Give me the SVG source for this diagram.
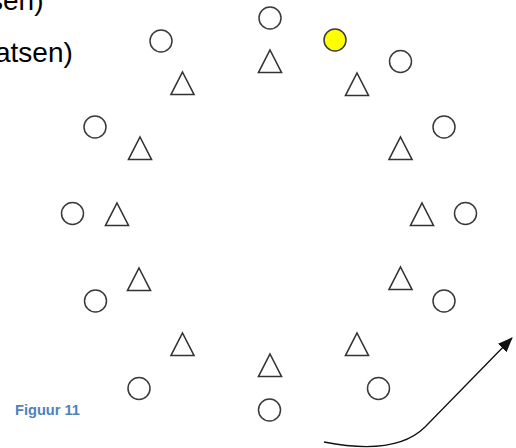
<svg xmlns="http://www.w3.org/2000/svg" xmlns:xlink="http://www.w3.org/1999/xlink" width="516" height="448" viewBox="0 0 516 448">
<style>
.c{fill:#fff;stroke:#3a3a3a;stroke-width:1.5}
.y{fill:#ffff00;stroke:#3a3a3a;stroke-width:1.5}
.t{fill:#fff;stroke:#333;stroke-width:1.6;stroke-linejoin:miter}
.txt{font-family:"Liberation Sans",Arial,sans-serif;font-size:28px;fill:#000}
.cap{font-family:"Liberation Sans",Arial,sans-serif;font-size:15px;font-weight:bold;fill:#4F81BD}
.arr{fill:none;stroke:#111;stroke-width:1.3}
</style>
<defs>
<path id="tri" d="M0,0 L11.5,22.5 L-11.5,22.5 Z"/>
<marker id="ah" markerUnits="userSpaceOnUse" markerWidth="16" markerHeight="14" refX="14" refY="6" orient="auto" viewBox="0 0 16 12">
<path d="M0,0 L15,6 L0,12 Z" fill="#111"/>
</marker>
</defs>
<rect width="516" height="448" fill="#fff"/>
<text class="txt" x="-11" y="10">sen)</text>
<text class="txt" x="-5" y="62">atsen)</text>
<text class="cap" x="15" y="415" textLength="65" lengthAdjust="spacingAndGlyphs">Figuur 11</text>
<g id="circles">
<g id="c1"><circle class="c" cx="270" cy="18" r="11"/></g>
<g id="c2"><circle class="c" cx="161" cy="41" r="11"/></g>
<g id="c3"><circle class="y" cx="335" cy="40" r="11"/></g>
<g id="c4"><circle class="c" cx="400.5" cy="61.5" r="11"/></g>
<g id="c5"><circle class="c" cx="95" cy="127" r="11"/></g>
<g id="c6"><circle class="c" cx="444" cy="127" r="11"/></g>
<g id="c7"><circle class="c" cx="72.5" cy="213.5" r="11"/></g>
<g id="c8"><circle class="c" cx="465.5" cy="213.5" r="11"/></g>
<g id="c9"><circle class="c" cx="95.5" cy="301" r="11"/></g>
<g id="c10"><circle class="c" cx="444" cy="301" r="11"/></g>
<g id="c11"><circle class="c" cx="139" cy="388.5" r="11"/></g>
<g id="c12"><circle class="c" cx="378.5" cy="388.5" r="11"/></g>
<g id="c13"><circle class="c" cx="269.5" cy="410" r="11"/></g>
</g>
<g id="triangles">
<g id="t1"><use class="t" xlink:href="#tri" x="270" y="50"/></g>
<g id="t2"><use class="t" xlink:href="#tri" x="182.5" y="72"/></g>
<g id="t3"><use class="t" xlink:href="#tri" x="357" y="73"/></g>
<g id="t4"><use class="t" xlink:href="#tri" x="140" y="137"/></g>
<g id="t5"><use class="t" xlink:href="#tri" x="400.5" y="137"/></g>
<g id="t6"><use class="t" xlink:href="#tri" x="117" y="203"/></g>
<g id="t7"><use class="t" xlink:href="#tri" x="422" y="203"/></g>
<g id="t8"><use class="t" xlink:href="#tri" x="139" y="268"/></g>
<g id="t9"><use class="t" xlink:href="#tri" x="400.5" y="267"/></g>
<g id="t10"><use class="t" xlink:href="#tri" x="182.5" y="333"/></g>
<g id="t11"><use class="t" xlink:href="#tri" x="357" y="333"/></g>
<g id="t12"><use class="t" xlink:href="#tri" x="270" y="354"/></g>
</g>
<g id="connectors">
<path class="arr" d="M324,442 C355,448 400,452 425,427 L512,338" marker-end="url(#ah)"/>
</g>
</svg>
